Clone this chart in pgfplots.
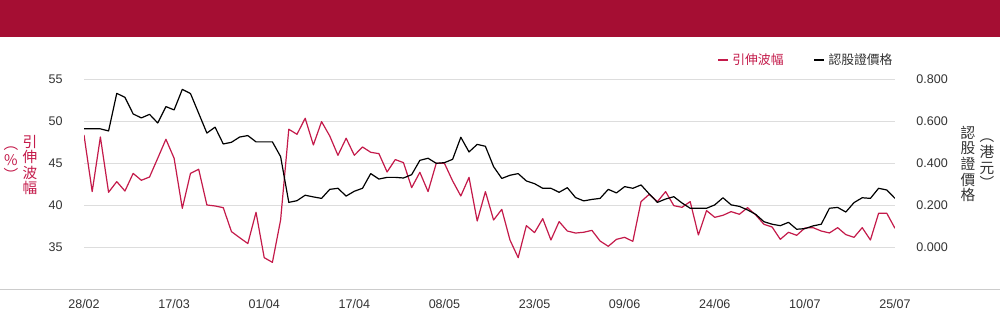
\documentclass[border=0pt]{standalone}
\usepackage{pgfplots}
\pgfplotsset{compat=1.18}
\usepackage{fontspec}
\setmainfont{Liberation Sans}
\newfontfamily\cjk{Noto Sans CJK TC}
\definecolor{banner}{HTML}{A50E33}
\definecolor{volred}{HTML}{C41A4A}
\definecolor{gridgray}{HTML}{DDDDDD}
\definecolor{txt}{HTML}{333333}
\definecolor{sepgray}{HTML}{CCCCCC}
\begin{document}
\begin{tikzpicture}
\begin{scope}[x=0.75pt,y=-0.75pt]
\useasboundingbox (0,0) rectangle (1000,324);
\fill[white] (0,0) rectangle (1000,324);
\fill[banner] (0,0) rectangle (1000,37);
\draw[sepgray, line width=0.75pt] (0,289) -- (1000,289);
\node[font=\cjk\fontsize{11}{11.7}\selectfont, text=volred, align=center, inner sep=0pt] at (30,165) {引\\伸\\波\\幅};
\node[font=\cjk\fontsize{11}{11.7}\selectfont, text=volred, align=center, inner sep=0pt] at (11,164) {︵\\\%\\︶};
\node[font=\cjk\fontsize{11}{11.7}\selectfont, text=txt, align=center, inner sep=0pt] at (968,164) {認\\股\\證\\價\\格};
\node[font=\cjk\fontsize{11}{11.7}\selectfont, text=txt, align=center, inner sep=0pt] at (987,164) {︵\\港\\元\\︶};
\end{scope}
\begin{axis}[
  at={(63pt,-216.75pt)}, anchor=south west,
  scale only axis, width=608.25pt, height=157.3pt,
  xmin=0, xmax=99, ymin=30.04, ymax=55,
  axis line style={draw=none}, major tick length=0pt,
  ytick={35,40,45,50,55},
  ymajorgrids, grid style={gridgray, line width=0.75pt},
  xtick={0,11,22,33,44,55,66,77,88,99},
  xticklabels={28/02,17/03,01/04,17/04,08/05,23/05,09/06,24/06,10/07,25/07},
  tick label style={font=\fontsize{9.4}{11}\selectfont, text=txt},
  yticklabel style={xshift=-12.5pt},
  xticklabel style={yshift=-4pt},
  /pgf/number format/assume math mode=true,
  legend style={at={(0.775,1.092)}, anchor=west, draw=none, fill=none,
    font=\cjk\fontsize{9.6}{11}\selectfont, /tikz/every even column/.append style={column sep=20pt}},
  legend columns=2, legend cell align=left,
  legend image code/.code={\draw[line width=2.2pt] (0pt,0pt) -- (7.5pt,0pt);},
]
\addplot[volred, line width=0.9pt, line join=round] table[x=k, y=v] {
k v
0 48.37
1 41.63
2 48.13
3 41.55
4 42.82
5 41.70
6 43.80
7 42.98
8 43.37
9 45.60
10 47.86
11 45.60
12 39.64
13 43.80
14 44.29
15 40.04
16 39.92
17 39.72
18 36.87
19 36.15
20 35.45
21 39.17
22 33.77
23 33.21
24 38.25
25 49.05
26 48.45
27 50.36
28 47.18
29 49.96
30 48.25
31 45.95
32 47.98
33 45.95
34 46.94
35 46.31
36 46.15
37 43.97
38 45.44
39 45.08
40 42.10
41 43.93
42 41.63
43 45.00
44 45.00
45 42.90
46 41.11
47 43.33
48 38.13
49 41.63
50 38.25
51 39.52
52 35.87
53 33.77
54 37.58
55 36.75
56 38.41
57 35.87
58 38.06
59 36.94
60 36.70
61 36.79
62 37.02
63 35.75
64 35.12
65 35.95
66 36.19
67 35.71
68 40.44
69 41.31
70 40.44
71 41.63
72 39.96
73 39.76
74 40.44
75 36.47
76 39.37
77 38.57
78 38.81
79 39.25
80 38.93
81 39.72
82 38.85
83 37.74
84 37.42
85 35.95
86 36.79
87 36.43
88 37.30
89 37.34
90 36.94
91 36.71
92 37.34
93 36.51
94 36.19
95 37.34
96 35.87
97 39.05
98 39.05
99 37.26
};
\addlegendentry{\textcolor{volred}{引伸波幅}}
\addlegendimage{black, line width=0.9pt}
\addlegendentry{\textcolor{txt}{認股證價格}}
\end{axis}
\begin{axis}[
  at={(63pt,-216.75pt)}, anchor=south west,
  scale only axis, width=608.25pt, height=157.3pt,
  xmin=0, xmax=99, ymin=-0.1984, ymax=0.8,
  axis line style={draw=none}, major tick length=0pt,
  xtick=\empty,
  ytick={0,0.2,0.4,0.6,0.8}, yticklabel pos=right,
  yticklabel style={xshift=12.5pt, /pgf/number format/.cd, fixed, fixed zerofill, precision=3},
  tick label style={font=\fontsize{9.4}{11}\selectfont, text=txt},
  /pgf/number format/assume math mode=true,
]
\addplot[black, line width=0.9pt, line join=round] table[x=k, y=p] {
k p
0 0.564
1 0.564
2 0.564
3 0.554
4 0.733
5 0.714
6 0.635
7 0.616
8 0.633
9 0.592
10 0.670
11 0.654
12 0.752
13 0.732
14 0.638
15 0.544
16 0.572
17 0.492
18 0.500
19 0.525
20 0.532
21 0.502
22 0.502
23 0.502
24 0.432
25 0.214
26 0.222
27 0.248
28 0.240
29 0.233
30 0.276
31 0.281
32 0.244
33 0.267
34 0.281
35 0.351
36 0.325
37 0.333
38 0.333
39 0.330
40 0.346
41 0.414
42 0.424
43 0.400
44 0.403
45 0.419
46 0.524
47 0.454
48 0.490
49 0.481
50 0.384
51 0.328
52 0.343
53 0.351
54 0.316
55 0.303
56 0.281
57 0.281
58 0.262
59 0.284
60 0.237
61 0.221
62 0.228
63 0.233
64 0.276
65 0.259
66 0.289
67 0.281
68 0.297
69 0.254
70 0.214
71 0.230
72 0.241
73 0.211
74 0.186
75 0.186
76 0.186
77 0.202
78 0.236
79 0.202
80 0.195
81 0.178
82 0.157
83 0.122
84 0.110
85 0.103
86 0.119
87 0.086
88 0.089
89 0.102
90 0.110
91 0.186
92 0.190
93 0.168
94 0.213
95 0.236
96 0.233
97 0.281
98 0.273
99 0.233
};
\end{axis}
\end{tikzpicture}
\end{document}
